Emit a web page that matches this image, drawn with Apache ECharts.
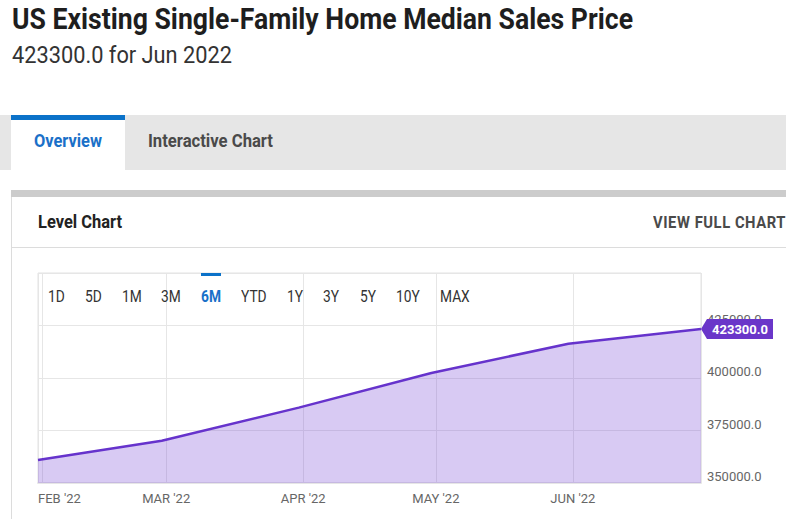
<!DOCTYPE html>
<html>
<head>
<meta charset="utf-8">
<script src="https://cdn.jsdelivr.net/npm/echarts@6/dist/echarts.min.js"></script>
<style>
  html, body { margin:0; padding:0; background:#fff; width:786px; height:519px; overflow:hidden; }
  body { font-family: Roboto, "Noto Sans", sans-serif; color:#222; position:relative; }
  .abs { position:absolute; white-space:nowrap; }
  .fit { transform-origin: 0 50%; }
  #title { left:12px; top:2px; font-size:29px; font-weight:bold; color:#1e1e1e; }
  #sub { left:12px; top:42px; font-size:23px; color:#333; }
  #tabs { left:0; top:115px; width:786px; height:55px; background:#e6e6e6; }
  #tabOn { left:11px; top:115px; width:114px; height:55px; background:#fff; border-top:5px solid #0b72c9; box-sizing:border-box; }
  #t1 { left:34px; top:130px; font-size:18px; font-weight:bold; color:#1a70c8; }
  #t2 { left:148px; top:130px; font-size:18px; font-weight:bold; color:#4a4a4a; }
  #cardTop { left:11px; top:190px; width:775px; height:7px; background:#cccccc; }
  #cardL { left:11px; top:197px; width:1px; height:322px; background:#dcdcdc; }
  #cardDiv { left:11px; top:247px; width:775px; height:1px; background:#dcdcdc; }
  #lc { left:38px; top:211px; font-size:18px; font-weight:bold; color:#222; }
  #vfc { left:653px; top:213px; font-size:16px; font-weight:bold; color:#4a4a4a; letter-spacing:0.6px; }
  #chart { position:absolute; left:0; top:0; width:786px; height:519px; }
  .btn { position:absolute; top:287px; font-size:16px; color:#333; z-index:5; white-space:nowrap; transform-origin:0 50%; }
  .btn.on { color:#1a70c8; font-weight:bold; }
  #ind { position:absolute; left:201px; top:273px; width:20px; height:3px; background:#0b72c9; z-index:5; }
</style>
</head>
<body>
<div class="abs fit" id="title" data-w="621">US Existing Single-Family Home Median Sales Price</div>
<div class="abs fit" id="sub" data-w="220">423300.0 for Jun 2022</div>
<div class="abs" id="tabs"></div>
<div class="abs" id="tabOn"></div>
<div class="abs fit" id="t1" data-w="68">Overview</div>
<div class="abs fit" id="t2" data-w="125">Interactive Chart</div>
<div class="abs" id="cardTop"></div>
<div class="abs" id="cardL"></div>
<div class="abs" id="cardDiv"></div>
<div class="abs fit" id="lc" data-w="84">Level Chart</div>
<div class="abs fit" id="vfc" data-w="133">VIEW FULL CHART</div>
<div id="chart"></div>
<div id="ind"></div>
<script>
// ---- data ----
const dates = ['2022-01-31', '2022-02-28', '2022-03-31', '2022-04-30', '2022-05-31', '2022-06-30'];
const prices = [360900, 370100, 385900, 402400, 416300, 423300];
const rangeButtons = ['1D', '5D', '1M', '3M', '6M', 'YTD', '1Y', '3Y', '5Y', '10Y', 'MAX'];
const buttonX = [48, 85, 122, 161, 201, 241, 287, 323, 360, 396, 440];
const activeButton = '6M';
const monthNames = ['JAN','FEB','MAR','APR','MAY','JUN','JUL','AUG','SEP','OCT','NOV','DEC'];
const yMin = 350000, yMax = 450000, yStep = 25000;

rangeButtons.forEach((b, i) => {
  const s = document.createElement('span');
  s.className = 'btn' + (b === activeButton ? ' on' : '');
  s.style.left = buttonX[i] + 'px';
  s.textContent = b;
  s.style.transform = 'scaleX(0.86)';
  document.body.appendChild(s);
});
// squeeze HTML texts to the condensed widths of the reference
document.querySelectorAll('.fit').forEach(el => {
  const w = el.getBoundingClientRect().width;
  const target = Number(el.dataset.w);
  if (w > 0 && target) el.style.transform = 'scaleX(' + (target / w) + ')';
});

const FONT = 'Roboto, "Noto Sans", sans-serif';
const chart = echarts.init(document.getElementById('chart'), null, { renderer: 'svg' });
const DAY = 86400000;
const lastIdx = prices.length - 1;

chart.setOption({
  animation: false,
  backgroundColor: 'transparent',
  grid: { left: 38, right: 85, top: 273, bottom: 36, show: true, borderColor: '#e3e3e3', borderWidth: 1, containLabel: false },
  xAxis: {
    type: 'time',
    min: dates[0],
    max: dates[lastIdx],
    minInterval: 27 * DAY,
    maxInterval: 32 * DAY,
    axisLine: { show: true, lineStyle: { color: '#e6e6e6', width: 2 } },
    axisTick: { show: false },
    splitLine: { show: true, lineStyle: { color: '#e6e6e6', width: 1 } },
    axisLabel: {
      color: '#666', fontSize: 13, fontFamily: FONT, margin: 9,
      hideOverlap: false,
      formatter: function (val) {
        const d = new Date(val);
        const t = monthNames[d.getMonth()] + " '" + String(d.getFullYear()).slice(2);
        return d.getMonth() === 1 ? '{l|' + t + '}' : t;
      },
      rich: { l: { padding: [0, 0, 0, 34], color: '#666', fontSize: 13, fontFamily: FONT } }
    }
  },
  yAxis: {
    type: 'value',
    position: 'right',
    min: yMin, max: yMax, interval: yStep,
    axisLine: { show: false },
    axisTick: { show: false },
    splitLine: { show: true, lineStyle: { color: '#e6e6e6', width: 1 } },
    axisLabel: {
      color: '#666', fontSize: 13, fontFamily: FONT, margin: 6, verticalAlign: 'bottom',
      showMaxLabel: false,
      formatter: function (v) { return v >= yMax ? '' : v.toFixed(1); }
    }
  },
  series: [{
    type: 'line',
    data: dates.map((d, i) => [d, prices[i]]),
    showSymbol: false,
    symbol: 'none',
    lineStyle: { color: '#6633cc', width: 2.5 },
    areaStyle: { color: 'rgba(110,60,210,0.27)', opacity: 1, origin: 'start' },
    markPoint: {
      symbol: 'path://M0,10 L6,0 L72,0 L72,20 L6,20 Z',
      symbolSize: [72, 20],
      symbolOffset: [36, 0],
      itemStyle: { color: '#6a36c9' },
      label: {
        show: true, position: 'inside', offset: [3, 0],
        color: '#fff', fontWeight: 'bold', fontSize: 13, fontFamily: FONT,
        formatter: function (p) { return Number(p.value).toFixed(1); }
      },
      data: [{ coord: [dates[lastIdx], prices[lastIdx]], value: prices[lastIdx] }]
    }
  }]
});
</script>
</body>
</html>
